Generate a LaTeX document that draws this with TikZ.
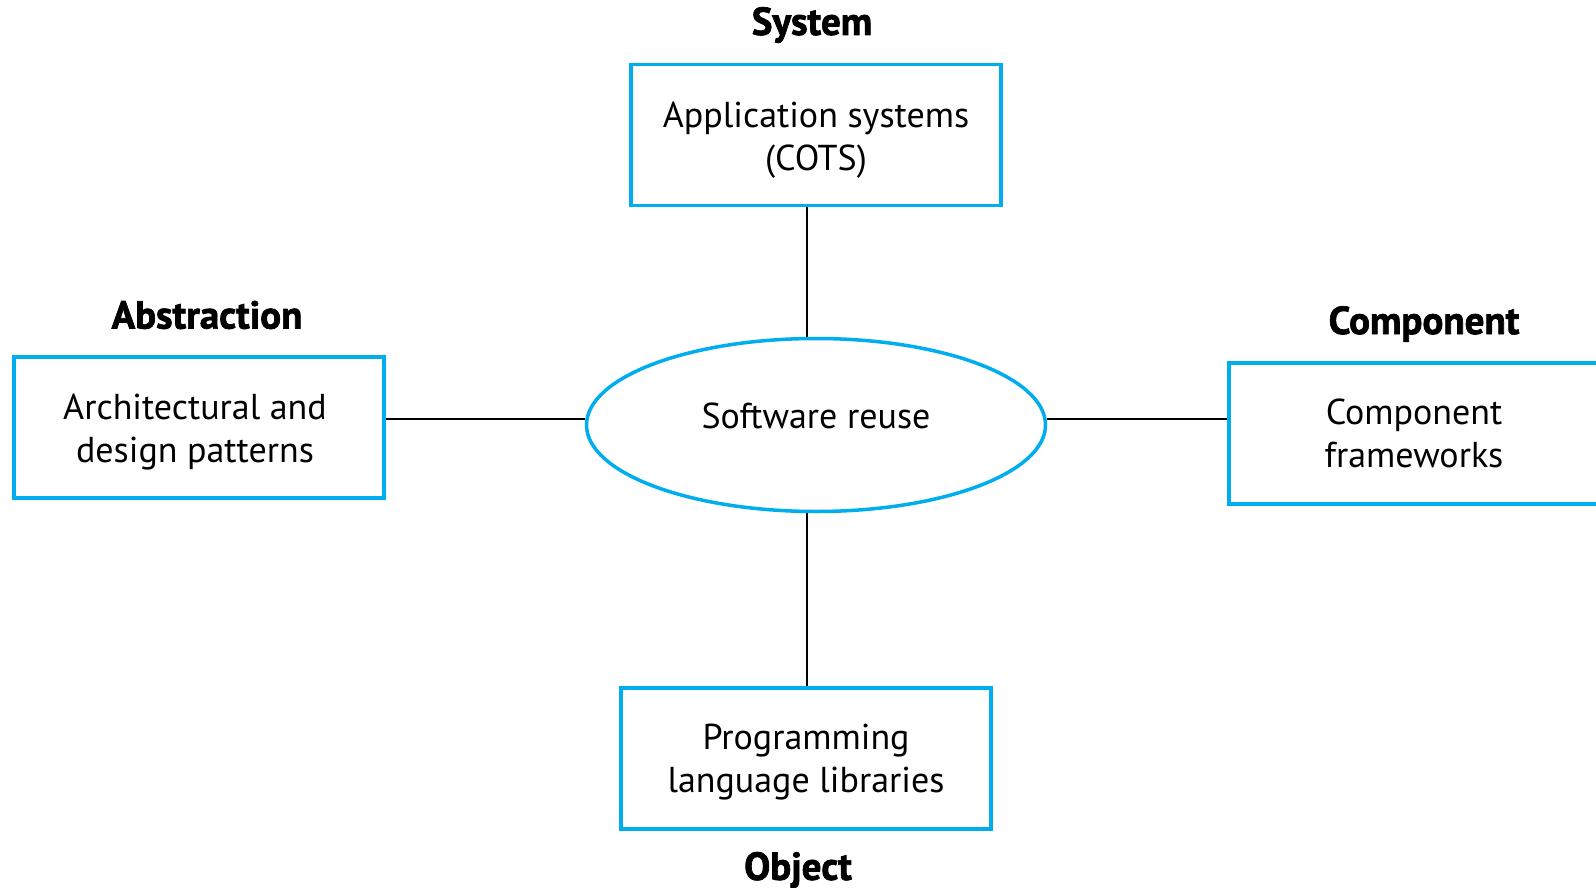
\documentclass[tikz,border=0pt]{standalone}
\usepackage{fontspec}
\setmainfont{PT Sans}
\newfontfamily\heavy[BoldFeatures={FakeBold=1.8}]{PT Sans}
\usetikzlibrary{shapes.geometric}
\definecolor{boxblue}{RGB}{0,174,239}
\begin{document}
\begin{tikzpicture}[x=1pt,y=-1pt,
  box/.style={draw=boxblue,line width=3.5pt,rectangle,minimum width=370pt,minimum height=141pt,inner sep=0pt},
  txt/.style={align=center,inner sep=0pt,font=\fontsize{36}{43}\selectfont},
  oval/.style={draw=boxblue,line width=3.5pt,ellipse,minimum width=459pt,minimum height=173pt,inner sep=0pt},
  lbl/.style={font=\fontsize{39}{40}\selectfont\heavy\bfseries,inner sep=0pt},
  conn/.style={draw=black,line width=1.6pt}]
\clip (0,0) rectangle (1596,888);
\fill[white] (0,0) rectangle (1596,888);
\node[box] (top) at (816,135) {};
\node[box] (left) at (199,427.5) {};
\node[box] (right) at (1414,433.5) {};
\node[box] (bot) at (806,758.5) {};
\node[oval] (ell) at (816,425) {};
\node[txt,yshift=-5pt] (toptext) at (top.center) {Application systems\\(COTS)};
\node[txt,yshift=-5pt,xshift=-4pt] (lefttext) at (left.center) {Architectural and\\design patterns};
\node[txt] (righttext) at (right.center) {Component\\frameworks};
\node[txt,yshift=-4pt] (bottext) at (bot.center) {Programming\\language libraries};
\node[txt,yshift=9pt] (elltext) at (ell.center) {Software reuse};
\node[lbl] (lsys) at (812,25) {System};
\node[lbl] (labs) at (207,315) {Abstraction};
\node[lbl] (lcomp) at (1424,324) {Component};
\node[lbl] (lobj) at (798,870) {Object};
\coordinate (hl) at (0,419);
\coordinate (vl) at (807,0);
\draw[conn] (top.south -| vl) -- (ell.north -| vl);
\draw[conn] (ell.south -| vl) -- (bot.north -| vl);
\draw[conn] (left.east |- hl) -- (ell.west |- hl);
\draw[conn] (ell.east |- hl) -- (right.west |- hl);
\end{tikzpicture}
\end{document}
